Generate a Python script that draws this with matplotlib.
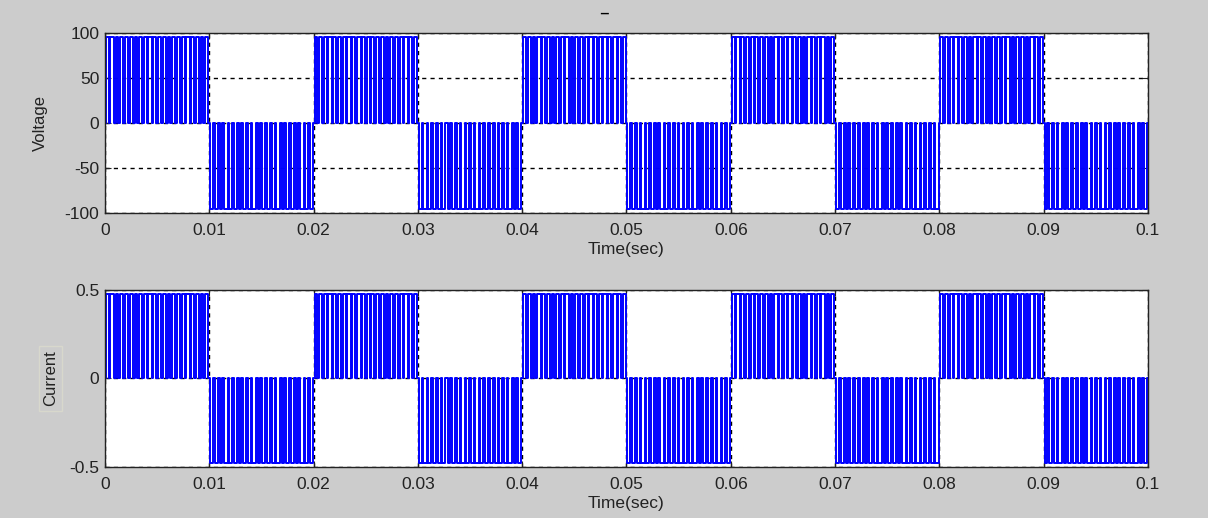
import numpy as np
import matplotlib
matplotlib.use("Agg")
import matplotlib.pyplot as plt

plt.rcParams['font.family'] = ['Liberation Sans', 'DejaVu Sans']

# half-cycle layout: 10 half cycles of 0.01 s, alternating sign
half_start = [0.0, 0.01, 0.02, 0.03, 0.04, 0.05, 0.06, 0.07, 0.08, 0.09]
half_sign = [1, -1, 1, -1, 1, -1, 1, -1, 1, -1]

# pulse duty of each switching period inside one half cycle (read by eye)
pulse_duty = [0.6, 0.7, 0.55, 0.75, 0.6, 0.65, 0.5, 0.7, 0.6, 0.8, 0.55,
              0.65, 0.7, 0.6, 0.75, 0.5, 0.65, 0.7, 0.6, 0.8, 0.55, 0.65]

volt_amp = 96
curr_amp = 0.48

volt_ticks = [-100, -50, 0, 50, 100]
curr_ticks = [-0.5, 0, 0.5]
time_ticks = [0, 0.01, 0.02, 0.03, 0.04, 0.05, 0.06, 0.07, 0.08, 0.09, 0.1]
time_labels = ['0', '0.01', '0.02', '0.03', '0.04', '0.05', '0.06', '0.07', '0.08', '0.09', '0.1']


def pwm_wave(amp):
    t = [0.0]
    y = [0.0]
    n = len(pulse_duty)
    for s, sg in zip(half_start, half_sign):
        T = 0.01 / n
        for j, d in enumerate(pulse_duty):
            c = s + (j + 0.5) * T
            a = c - d * T / 2
            b = c + d * T / 2
            t += [a, a, b, b]
            y += [0, sg * amp, sg * amp, 0]
    t.append(0.1)
    y.append(0.0)
    return np.array(t), np.array(y)


bg = '#cccccc'
fig = plt.figure(figsize=(12.08, 5.18), dpi=100, facecolor=bg)
ax1 = fig.add_axes([0.0869, 0.5888, 0.8634, 0.3475])
ax2 = fig.add_axes([0.0869, 0.0985, 0.8634, 0.3417])

for ax, amp, yt, lim in [(ax1, volt_amp, volt_ticks, (-100, 100)),
                         (ax2, curr_amp, curr_ticks, (-0.5, 0.5))]:
    t, y = pwm_wave(amp)
    ax.set_axisbelow(True)
    ax.plot(t, y, color='#0000ff', lw=1.4, zorder=3)
    ax.set_xlim(0, 0.1)
    ax.set_ylim(*lim)
    ax.set_xticks(time_ticks)
    ax.set_xticklabels(time_labels)
    ax.set_yticks(yt)
    ax.set_yticklabels([('%g' % v) for v in yt])
    ax.grid(True, color='black', linestyle=(0, (3, 3)), lw=1.0)
    ax.tick_params(direction='in', top=True, right=True, labelsize=12.5, length=4,
                   colors='#222222')
    ax.tick_params(axis='x', pad=7)
    ax.tick_params(axis='y', pad=4)
    for sp in ax.spines.values():
        sp.set_color('#222222')
        sp.set_linewidth(1.0)
        sp.set_zorder(5)
    ax.set_xlabel('Time(sec)', fontsize=12.5, labelpad=3, color='#222222')

ax1.set_ylabel('Voltage', fontsize=12, color='#222222', labelpad=12)
ax2.set_ylabel('Current', fontsize=12, color='#222222', labelpad=8,
               bbox=dict(facecolor=bg, edgecolor='#d8d8cc', pad=3))

fig.text(0.5, 0.985, '_', ha='center', va='center', fontsize=10, fontweight='bold')

fig.savefig('out.png', dpi=100, facecolor=bg)
